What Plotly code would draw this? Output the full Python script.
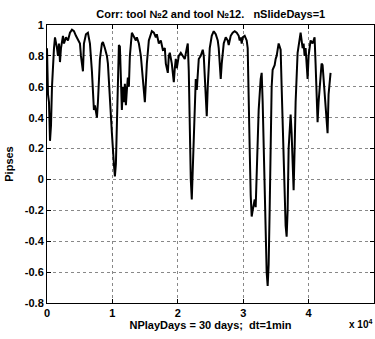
import plotly.graph_objects as go

minutes = [0, 153, 305, 458, 611, 763, 1069, 1221, 1527, 1679, 1832, 1985, 2137, 2443, 2595, 2901, 3206, 3511, 3817, 4122,
           4427, 4733, 5038, 5191, 5496, 5649, 5954, 6259, 6565, 6870, 7023, 7175, 7328, 7481, 7634, 7786, 8091, 8397, 8550, 8855,
           9160, 9313, 9618, 9924, 10229, 10382, 10534, 10687, 10840, 10992, 11145, 11298, 11450, 11603, 11756, 11908, 12061, 12214, 12366, 12519,
           12672, 12977, 13282, 13588, 13740, 14046, 14351, 14656, 14962, 15267, 15572, 16030, 16336, 16641, 16794, 17099, 17404, 17710, 18015, 18168,
           18474, 18626, 18779, 19084, 19389, 19542, 19695, 19847, 20152, 20458, 20763, 21068, 21374, 21526, 21679, 21832, 21984, 22137, 22290, 22442,
           22595, 22748, 22900, 23053, 23206, 23511, 23816, 23969, 24122, 24274, 24427, 24580, 24885, 25191, 25496, 25801, 26107, 26259, 26412, 26565,
           26717, 27023, 27328, 27633, 27786, 28091, 28396, 28702, 29007, 29312, 29465, 29618, 29770, 29923, 30229, 30534, 30687, 30839, 30992, 31145,
           31297, 31450, 31603, 31755, 31908, 32061, 32366, 32671, 32824, 32977, 33129, 33282, 33435, 33587, 33740, 33893, 34045, 34198, 34351, 34503,
           34809, 34961, 35114, 35267, 35419, 35572, 35725, 35877, 36030, 36183, 36336, 36488, 36641, 36794, 36946, 37099, 37252, 37404, 37557, 37710,
           37862, 38015, 38320, 38626, 38779, 38931, 39084, 39237, 39389, 39542, 39695, 39847, 40000, 40305, 40610, 40916, 41068, 41221, 41374, 41526,
           41679, 41832, 41984, 42137, 42290, 42442, 42595, 42748, 42900, 43053, 43206, 43358]

corr = [0.85, 0.55, 0.5, 0.25, 0.35, 0.6, 0.85, 0.92, 0.85, 0.8, 0.88, 0.76, 0.85, 0.93, 0.88, 0.92, 0.9, 0.95, 0.97, 0.96,
        0.93, 0.9, 0.88, 0.8, 0.70, 0.88, 0.94, 0.95, 0.88, 0.7, 0.55, 0.45, 0.48, 0.42, 0.40, 0.5, 0.78, 0.88, 0.89, 0.85,
        0.8, 0.75, 0.5, 0.3, 0.1, 0.02, 0.1, 0.4, 0.7, 0.87, 0.86, 0.6, 0.45, 0.6, 0.5, 0.62, 0.48, 0.58, 0.66, 0.6,
        0.8, 0.95, 0.92, 0.9, 0.92, 0.88, 0.8, 0.65, 0.5, 0.75, 0.9, 0.96, 0.95, 0.92, 0.94, 0.88, 0.9, 0.84, 0.85, 0.75,
        0.69, 0.8, 0.82, 0.75, 0.63, 0.72, 0.78, 0.72, 0.8, 0.82, 0.8, 0.78, 0.85, 0.88, 0.7, 0.3, 0.0, -0.13, 0.1, 0.3,
        0.5, 0.65, 0.58, 0.7, 0.78, 0.8, 0.84, 0.8, 0.65, 0.5, 0.41, 0.6, 0.85, 0.93, 0.96, 0.94, 0.9, 0.85, 0.75, 0.65,
        0.75, 0.88, 0.92, 0.9, 0.87, 0.93, 0.95, 0.96, 0.95, 0.93, 0.9, 0.92, 0.88, 0.92, 0.93, 0.9, 0.85, 0.6, 0.2, -0.1,
        -0.24, -0.2, -0.15, -0.13, -0.18, 0.1, 0.45, 0.65, 0.69, 0.5, 0.2, -0.2, -0.45, -0.6, -0.69, -0.55, -0.2, 0.3, 0.6, 0.71,
        0.74, 0.78, 0.8, 0.84, 0.88, 0.86, 0.84, 0.6, 0.35, 0.1, -0.15, -0.3, -0.37, -0.2, 0.2, 0.35, 0.42, 0.3, 0.05, -0.07,
        0.2, 0.5, 0.82, 0.92, 0.95, 0.9, 0.85, 0.88, 0.8, 0.85, 0.75, 0.65, 0.8, 0.9, 0.88, 0.92, 0.75, 0.5, 0.37, 0.5,
        0.6, 0.72, 0.75, 0.74, 0.65, 0.55, 0.45, 0.35, 0.3, 0.55, 0.62, 0.69]

x_tick_vals = [0, 10000, 20000, 30000, 40000, 50000]
x_tick_text = ["0", "1", "2", "3", "4", "5"]
y_tick_vals = [-0.8, -0.6, -0.4, -0.2, 0, 0.2, 0.4, 0.6, 0.8, 1]
y_tick_text = ["-0.8", "-0.6", "-0.4", "-0.2", "0", "0.2", "0.4", "0.6", "0.8", "1"]

title_text = "Corr: tool №2 and tool №12.   nSlideDays=1"
x_title = "NPlayDays = 30 days;  dt=1min"
y_title = "Pipses"

FONT = "Liberation Sans"

fig = go.Figure(go.Scatter(x=minutes, y=corr, mode="lines",
                           line=dict(color="black", width=2), showlegend=False))

axis_common = dict(showline=True, linecolor="black", linewidth=1, mirror="ticks",
                   ticks="inside", ticklen=4, tickcolor="black",
                   showgrid=True, gridcolor="#888888", griddash="dot", gridwidth=1,
                   zeroline=False, tickfont=dict(family=FONT, size=11, color="black", weight="bold"))

fig.update_layout(
    width=375, height=339,
    margin=dict(l=47, r=1, t=25, b=36),
    paper_bgcolor="white", plot_bgcolor="white",
    title=dict(text="<b>" + title_text + "</b>", x=0.562, xanchor="center", y=0.958, yanchor="middle",
               font=dict(family=FONT, size=11, color="black")),
    xaxis=dict(range=[0, 50000], tickvals=x_tick_vals, ticktext=x_tick_text,
               title=dict(text="<b>" + x_title + "</b>", standoff=2,
                          font=dict(family=FONT, size=11, color="black")), **axis_common),
    yaxis=dict(range=[-0.8, 1], tickvals=y_tick_vals, ticktext=y_tick_text,
               title=dict(text="<b>" + y_title + "</b>", standoff=8,
                          font=dict(family=FONT, size=11, color="black")), **axis_common),
    annotations=[dict(text="<b>x 10<sup>4</sup></b>", x=1.0, xref="paper", xanchor="right",
                      y=-0.075, yref="paper", yanchor="middle", showarrow=False,
                      font=dict(family=FONT, size=10, color="black"))],
)

fig.write_html("out.html")
